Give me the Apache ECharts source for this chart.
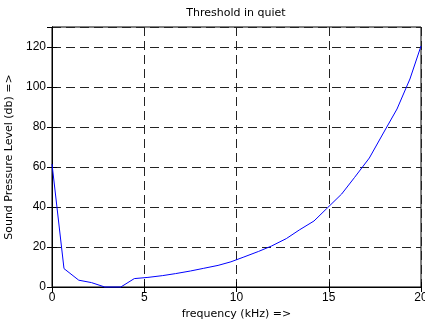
<!DOCTYPE html>
<html>
<head>
<meta charset="utf-8">
<script src="https://cdn.jsdelivr.net/npm/echarts@6/dist/echarts.min.js"></script>
<style>html,body{margin:0;padding:0;background:#fff}#c{width:425px;height:320px}</style>
</head>
<body>
<div id="c"></div>
<script>
var freqKHz = [0, 0.65, 1.45, 2.14, 2.86, 3.73, 4.46, 5.2, 6.0, 6.7, 7.5, 8.2, 9.0, 9.7, 10.4, 11.2, 11.9, 12.7, 13.4, 14.2, 14.9, 15.7, 16.4, 17.2, 17.9, 18.7, 19.4, 20.0];
var splDb = [61.5, 9.2, 3.4, 2.2, 0, 0, 4.2, 4.8, 5.7, 6.7, 8.0, 9.3, 10.8, 12.6, 15.0, 17.8, 20.5, 24.2, 28.5, 33.0, 39.3, 46.5, 54.8, 64.5, 76, 89, 104, 120.5];
var xTicks = [0, 5, 10, 15, 20];
var yTicks = [0, 20, 40, 60, 80, 100, 120];

var pts = freqKHz.map(function (f, i) { return [f, splDb[i]]; });
var font = '"Liberation Sans", Arial, sans-serif';
var wfont = '"DejaVu Sans", sans-serif';
var dash = { show: true, lineStyle: { color: '#222', type: [9, 5], width: 1 } };

var chart = echarts.init(document.getElementById('c'));
chart.setOption({
  animation: false,
  title: {
    text: 'Threshold in quiet', left: 236, top: 8, padding: 0, textAlign: 'center',
    textStyle: { fontFamily: wfont, fontSize: 11, fontWeight: 'normal', color: '#000' }
  },
  grid: { left: 52, right: 4, top: 27, bottom: 33, show: true, borderColor: '#000', borderWidth: 1,
    outerBoundsMode: 'none', containLabel: false },
  xAxis: [{
    type: 'value', min: 0, max: 20, interval: 5,
    name: 'frequency (kHz) =>', nameLocation: 'middle', nameGap: 18,
    nameTextStyle: { fontFamily: wfont, fontSize: 11, color: '#000' },
    axisLine: { show: true, lineStyle: { color: '#000' } },
    axisTick: { show: true, inside: true, length: 5, lineStyle: { color: '#000' } },
    axisLabel: { fontFamily: font, fontSize: 12, color: '#000', margin: 5,
      formatter: function (v) { return xTicks.indexOf(v) >= 0 ? String(v) : ''; } },
    splitLine: dash
  }, {
    type: 'value', min: 0, max: 20, interval: 5, position: 'top',
    axisLine: { show: true, lineStyle: { color: '#000' } },
    axisTick: { show: true, inside: true, length: 5, lineStyle: { color: '#000' } },
    axisLabel: { show: false }, splitLine: { show: false }
  }],
  yAxis: [{
    type: 'value', min: 0, max: 130, interval: 20,
    name: 'Sound Pressure Level (db) =>', nameLocation: 'middle', nameGap: 34,
    nameTextStyle: { fontFamily: wfont, fontSize: 11, color: '#000' },
    axisLine: { show: true, lineStyle: { color: '#000' } },
    axisTick: { show: true, inside: true, length: 5, lineStyle: { color: '#000' } },
    axisLabel: { fontFamily: font, fontSize: 12, color: '#000', margin: 6, showMaxLabel: false,
      formatter: function (v) { return yTicks.indexOf(v) >= 0 ? String(v) : ''; } },
    splitLine: dash
  }, {
    type: 'value', min: 0, max: 130, interval: 20, position: 'right',
    axisLine: { show: true, lineStyle: { color: '#000' } },
    axisTick: { show: true, inside: true, length: 5, lineStyle: { color: '#000' } },
    axisLabel: { show: false }, splitLine: { show: false }
  }],
  series: [{
    type: 'line', data: pts, showSymbol: false, symbol: 'none',
    lineStyle: { color: '#0000ff', width: 1 }, clip: false
  }]
});
</script>
</body>
</html>
